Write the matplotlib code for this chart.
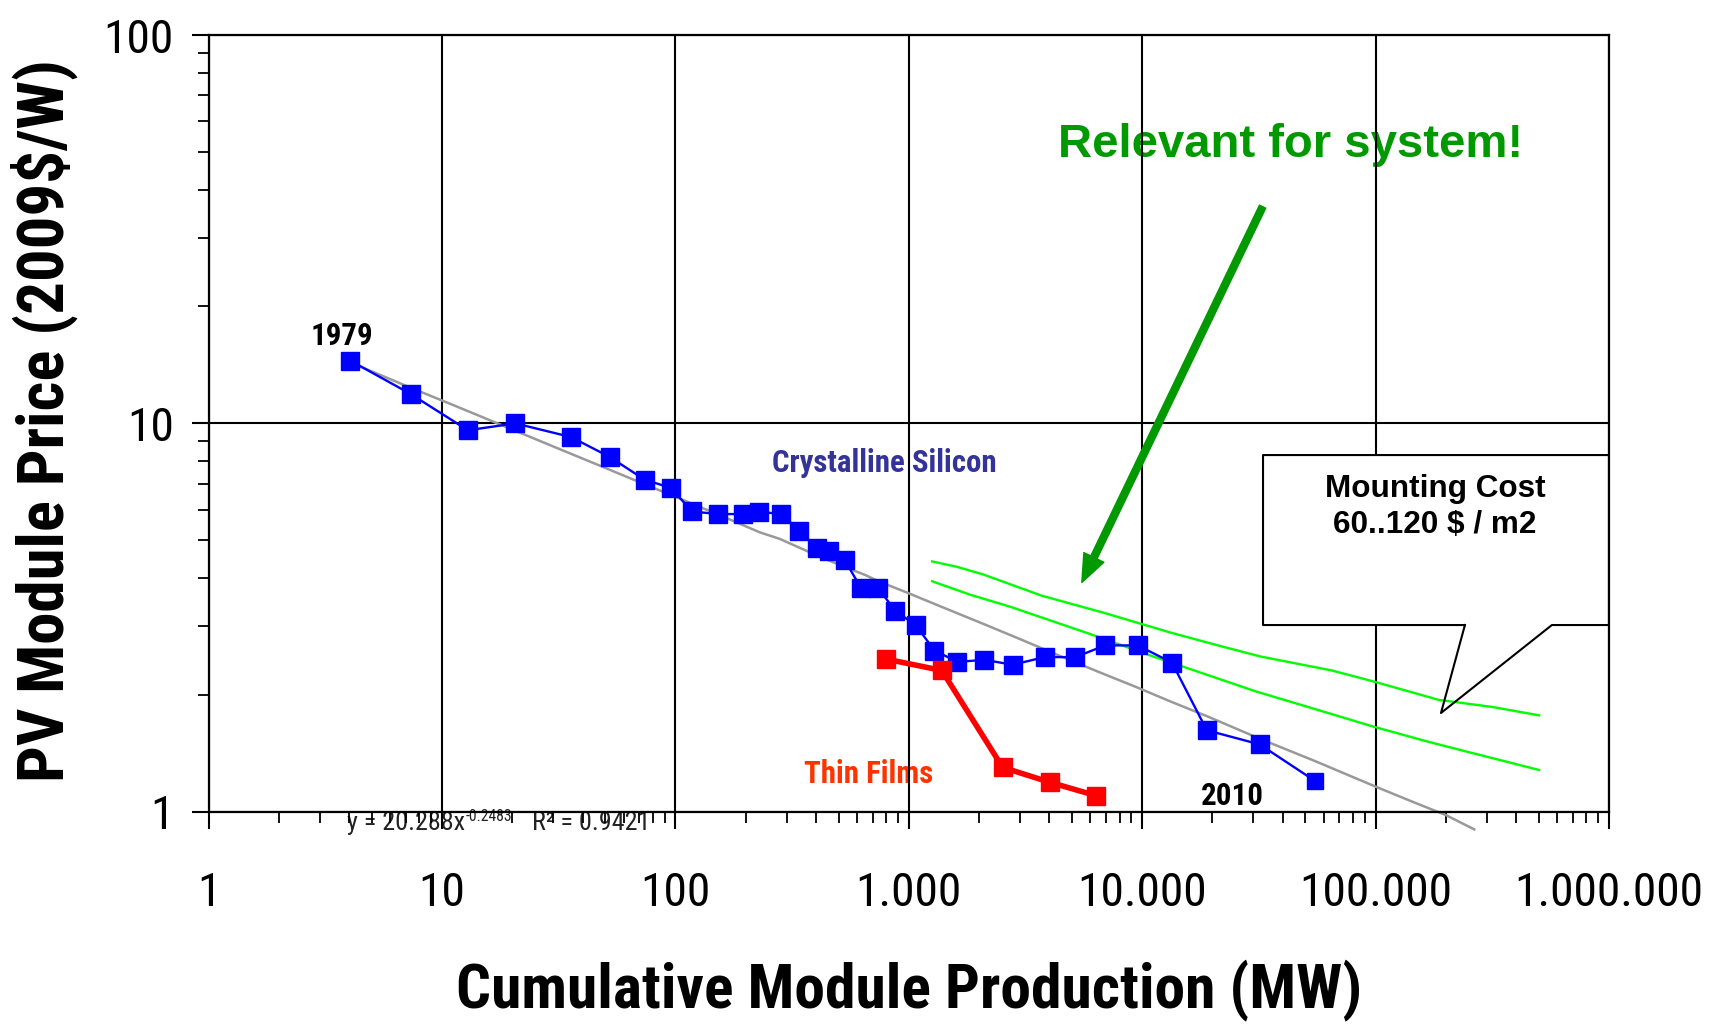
import matplotlib
matplotlib.use("Agg")
import matplotlib.pyplot as plt
from matplotlib import font_manager
from matplotlib.patches import Rectangle, FancyArrowPatch
from matplotlib.lines import Line2D

# Crystalline silicon learning curve (cumulative MW, 2009$/W)
si_mw = [4.05, 7.34, 12.9, 20.6, 35.7, 52.2, 73.8, 95.8, 117.7, 152.6, 195, 229, 284,
         340, 403, 455, 531, 625, 740, 875, 1072, 1288, 1617, 2102, 2790, 3820, 5180,
         6930, 9570, 13420, 18930, 31880, 55000]
si_price = [14.5, 11.9, 9.6, 10.0, 9.22, 8.2, 7.16, 6.82, 5.93, 5.84, 5.84, 5.92, 5.84,
            5.29, 4.77, 4.69, 4.45, 3.76, 3.76, 3.29, 3.02, 2.6, 2.43, 2.46, 2.39, 2.5, 2.5,
            2.68, 2.68, 2.42, 1.62, 1.49, 1.2]

# thin films
tf_mw = [802, 1385, 2524, 4024, 6320]
tf_price = [2.47, 2.31, 1.3, 1.19, 1.1]

# power-law trend (grey)
trend_mw = [4, 7, 12, 20, 35, 50, 75, 100, 120, 150, 230, 280, 400, 530, 650, 750, 1000,
            1300, 1600, 2100, 2800, 3800, 5200, 7000, 9500, 13000, 19000, 32000, 55000,
            100000, 150000, 200000, 265000]
trend_price = [14.4, 12.5, 10.95, 9.64, 8.39, 7.68, 6.94, 6.47, 6.18, 5.85, 5.24, 5.04,
               4.58, 4.27, 4.07, 3.91, 3.65, 3.42, 3.25, 3.04, 2.83, 2.62, 2.42, 2.25,
               2.09, 1.93, 1.76, 1.54, 1.35, 1.16, 1.05, 0.98, 0.9]

# mounting cost band (green), upper and lower
mount_hi_mw = [1259, 1610, 2089, 3707, 6871, 13280, 21630, 32060, 64860, 96400, 186700,
               317000, 502600]
mount_hi = [4.41, 4.27, 4.08, 3.6, 3.25, 2.89, 2.67, 2.51, 2.31, 2.17, 1.94, 1.86, 1.77]
mount_lo_mw = [1259, 1832, 2723, 5754, 11140, 30700, 49890, 96400, 163700, 243000, 502600]
mount_lo = [3.92, 3.62, 3.37, 2.89, 2.51, 2.04, 1.87, 1.66, 1.52, 1.43, 1.28]

x_ticks = [1, 10, 100, 1000, 10000, 100000, 1000000]
x_labels = ["1", "10", "100", "1.000", "10.000", "100.000", "1.000.000"]
y_ticks = [1, 10, 100]
y_labels = ["1", "10", "100"]

# pick a narrow sans (Arial Narrow look-alike) from what is installed
installed = {f.name for f in font_manager.fontManager.ttflist}
narrow_name = "DejaVu Sans"
for cand in ["Liberation Sans Narrow", "Arial Narrow", "Roboto Condensed", "PT Sans Narrow",
             "Archivo Narrow", "Barlow Semi Condensed"]:
    if cand in installed:
        narrow_name = cand
        break
narrow = [narrow_name, "DejaVu Sans"]
arial = ["Liberation Sans", "DejaVu Sans"]

fig = plt.figure(figsize=(17.22, 10.24), dpi=100)
renderer = fig.canvas.get_renderer()


def size_for(s, width_px, **kw):
    # font size that makes string s about width_px wide
    t = fig.text(0, 0, s, fontsize=100, **kw)
    w = t.get_window_extent(renderer).width
    t.remove()
    return 100 * width_px / w


tick_fs = size_for("1.000.000", 189, family=narrow)
xlabel_fs = size_for("Cumulative Module Production (MW)", 906, family=narrow, fontweight="bold")
ylabel_fs = size_for("PV Module Price (2009$/W)", 722, family=narrow, fontweight="bold")
note_fs = size_for("Crystalline Silicon", 225, family=narrow, fontweight="bold")
eq_fs = size_for("y = 20.288x", 118, family=narrow)

ax = fig.add_axes([0.1212, 0.2074, 0.8131, 0.7583])
ax.set_xscale("log")
ax.set_yscale("log")
ax.set_xlim(1, 1e6)
ax.set_ylim(1, 100)
ax.set_axisbelow(True)

ax.plot(trend_mw, trend_price, color="#999999", lw=1.8, zorder=2, clip_on=False)
ax.plot(mount_hi_mw, mount_hi, color="#00ff00", lw=1.7, zorder=2.1)
ax.plot(mount_lo_mw, mount_lo, color="#00ff00", lw=1.7, zorder=2.1)
ax.plot(si_mw, si_price, color="#0000ff", lw=1.7, zorder=3)
ax.plot(si_mw[:-1], si_price[:-1], ls="none", marker="s", ms=13.5, color="#0000ff", zorder=3.1)
ax.plot(si_mw[-1:], si_price[-1:], ls="none", marker="s", ms=11, color="#0000ff", zorder=3.1)
ax.plot(tf_mw, tf_price, color="#ff0000", lw=4, marker="s", ms=13.5, zorder=3.2)

# grid + frame
ax.grid(True, which="major", color="black", lw=1.5)
for sp in ax.spines.values():
    sp.set_linewidth(1.6)
ax.set_xticks(x_ticks)
ax.set_xticklabels(x_labels)
ax.set_yticks(y_ticks)
ax.set_yticklabels(y_labels)
ax.tick_params(which="major", direction="out", length=12, width=1.5)
ax.tick_params(which="minor", direction="out", length=8, width=1.3)
ax.tick_params(axis="x", which="major", pad=31)
ax.tick_params(axis="y", which="major", pad=13)
for lab in ax.get_xticklabels() + ax.get_yticklabels():
    lab.set_family(narrow)
    lab.set_fontsize(tick_fs)

# axis titles
fig.text(0.5279, 0.032, "Cumulative Module Production (MW)", ha="center", va="center",
         family=narrow, fontweight="bold", fontsize=xlabel_fs)
fig.text(0.0256, 0.589, "PV Module Price (2009$/W)", ha="center", va="center",
         rotation=90, family=narrow, fontweight="bold", fontsize=ylabel_fs)

# series labels
tr = ax.transAxes
ax.text(0.0948, 0.6009, "1979", transform=tr, ha="center", va="baseline",
        family=narrow, fontweight="bold", fontsize=note_fs, zorder=0.4)
ax.text(0.4826, 0.4377, "Crystalline Silicon", transform=tr, ha="center", va="baseline",
        family=narrow, fontweight="bold", fontsize=note_fs, color="#333399", zorder=0.4)
ax.text(0.4714, 0.0364, "Thin Films", transform=tr, ha="center", va="baseline",
        family=narrow, fontweight="bold", fontsize=note_fs, color="#ff3300", zorder=0.4)
ax.text(0.7308, 0.0085, "2010", transform=tr, ha="center", va="baseline",
        family=narrow, fontweight="bold", fontsize=note_fs, zorder=0.4)

# trend formula (sits under the tick marks)
ax.text(0.0986, -0.0237, "y = 20.288x", transform=tr, ha="left", va="baseline",
        family=narrow, fontsize=eq_fs, color="#222222", zorder=0.4, clip_on=False)
ax.text(0.1838, -0.0121, "-0.2483", transform=tr, ha="left", va="baseline",
        family=narrow, fontsize=eq_fs * 0.6, color="#222222", zorder=0.4, clip_on=False)
ax.text(0.2307, -0.0237, "R\u00b2 = 0.9421", transform=tr, ha="left", va="baseline",
        family=narrow, fontsize=eq_fs, color="#222222", zorder=0.4, clip_on=False)

# green note + arrow
ax.text(0.7730, 0.8434, "Relevant for system!", transform=tr, ha="center", va="baseline",
        family=arial, fontweight="bold", fontsize=34, color="#009900", zorder=0.4)
arrow = FancyArrowPatch((0.7527, 0.7791), (0.6236, 0.2951), transform=tr,
                        arrowstyle="simple,head_length=20,head_width=16,tail_width=5",
                        mutation_scale=1, color="#009900", shrinkA=0, shrinkB=0,
                        zorder=3.5, clip_on=False)
ax.add_patch(arrow)

# callout box
ax.add_patch(Rectangle((0.7530, 0.2403), 0.2470, 0.2189, transform=tr, facecolor="white",
                       edgecolor="none", zorder=4, clip_on=False))
ax.add_line(Line2D([0.8972, 0.7530, 0.7530, 1.0, 1.0, 0.9593, 0.8801, 0.8972],
                   [0.2403, 0.2403, 0.4592, 0.4592, 0.2403, 0.2403, 0.1270, 0.2403],
                   transform=tr, color="black", lw=1.5, zorder=4.1, clip_on=False))
ax.text(0.8758, 0.4055, "Mounting Cost", transform=tr, ha="center", va="baseline",
        family=arial, fontweight="bold", fontsize=22.7, zorder=5)
ax.text(0.8758, 0.3584, "60..120 $ / m2", transform=tr, ha="center", va="baseline",
        family=arial, fontweight="bold", fontsize=22.7, zorder=5)

fig.savefig("out.png", dpi=100, facecolor="white")
